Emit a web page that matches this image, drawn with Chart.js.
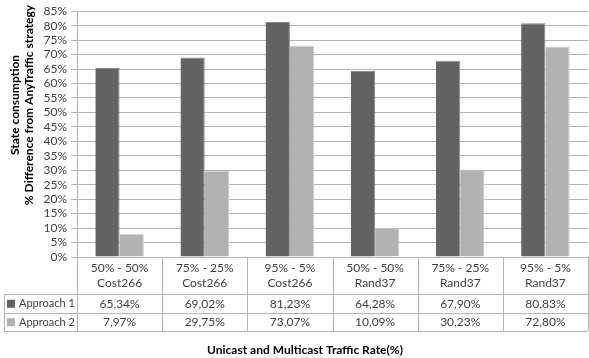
<!DOCTYPE html>
<html>
<head>
<meta charset="utf-8">
<script src="https://cdn.jsdelivr.net/npm/chart.js@4"></script>
<style>
  html, body { margin: 0; padding: 0; background: #fff; }
  #wrap { width: 589px; height: 358px; position: relative; }
</style>
</head>
<body>
<div id="wrap"><canvas id="chart"></canvas></div>
<script>
// Kategorien (Verkehrsverhältnis + Topologie) und Messreihen
const categories = [
    ['50% - 50%', 'Cost266'],
    ['75% - 25%', 'Cost266'],
    ['95% - 5%', 'Cost266'],
    ['50% - 50%', 'Rand37'],
    ['75% - 25%', 'Rand37'],
    ['95% - 5%', 'Rand37']
];
const seriesNames = ['Approach 1', 'Approach 2'];
const approach1 = [65.34, 69.02, 81.23, 64.28, 67.90, 80.83];
const approach2 = [7.97, 29.75, 73.07, 10.09, 30.23, 72.80];
const seriesColors = ['#636363', '#b2b2b2'];

const yTitleLines = ['State consumption', '% Difference from AnyTraffic strategy'];
const xTitle = 'Unicast and Multicast Traffic Rate(%)';

const FONT = 'Lato, "Open Sans", sans-serif';
const lineColor = '#b4b4b4';
const textColor = '#404040';

function fmt(v) {
    return v.toFixed(2).replace('.', ',') + '%';
}

/**
 * Zeichnet die Datentabelle unter dem Diagramm sowie die Achsentitel.
 */
const dataTablePlugin = {
    id: 'dataTable',
    afterDraw(chart) {
        const ctx = chart.ctx;
        const xs = chart.scales.x;
        const area = chart.chartArea;
        const colW = (area.right - area.left) / categories.length;
        const headTop = area.bottom;
        const headBottom = area.bottom + 37;
        const rowH = 18.5;
        const tableLeft = 4;
        const series = [approach1, approach2];

        ctx.save();
        ctx.strokeStyle = lineColor;
        ctx.lineWidth = 1;

        // horizontale Linien
        ctx.beginPath();
        for (let r = 0; r <= series.length; r++) {
            const y = Math.round(headBottom + r * rowH) + 0.5;
            ctx.moveTo(tableLeft, y);
            ctx.lineTo(area.right, y);
        }
        // vertikale Linien
        for (let i = 0; i <= categories.length; i++) {
            const x = Math.round(area.left + i * colW) + 0.5;
            ctx.moveTo(x, headTop);
            ctx.lineTo(x, headBottom + series.length * rowH);
        }
        ctx.moveTo(tableLeft + 0.5, headBottom);
        ctx.lineTo(tableLeft + 0.5, headBottom + series.length * rowH);
        ctx.stroke();

        ctx.fillStyle = textColor;
        ctx.font = '12px ' + FONT;
        ctx.textAlign = 'center';
        ctx.textBaseline = 'middle';

        // Kopfzeile mit Kategorien
        categories.forEach((lab, i) => {
            const cx = xs.getPixelForValue(i);
            ctx.fillText(lab[0], cx, headTop + 11);
            ctx.fillText(lab[1], cx, headTop + 26);
        });

        // Datenzeilen
        series.forEach((vals, r) => {
            const cy = headBottom + r * rowH + rowH / 2 + 0.5;
            ctx.font = '12px ' + FONT;
            vals.forEach((v, i) => {
                ctx.fillText(fmt(v), xs.getPixelForValue(i), cy);
            });
            ctx.fillStyle = seriesColors[r];
            ctx.fillRect(7, cy - 4, 8, 8);
            ctx.fillStyle = textColor;
            ctx.textAlign = 'left';
            ctx.font = '11px ' + FONT;
            ctx.fillText(seriesNames[r], 19, cy);
            ctx.textAlign = 'center';
        });

        // Achsentitel
        ctx.fillStyle = '#000';
        ctx.font = 'bold 12px ' + FONT;
        ctx.fillText(xTitle, 305, 350);

        ctx.translate(22, 105);
        ctx.rotate(-Math.PI / 2);
        ctx.fillText(yTitleLines[0], 0, -7);
        ctx.fillText(yTitleLines[1], 0, 7);
        ctx.restore();
    }
};

new Chart(document.getElementById('chart'), {
    type: 'bar',
    data: {
        labels: categories,
        datasets: [
            { label: seriesNames[0], data: approach1, backgroundColor: seriesColors[0], borderColor: '#8a8a8a', borderWidth: { top: 1, left: 0, right: 1, bottom: 0 } },
            { label: seriesNames[1], data: approach2, backgroundColor: seriesColors[1], borderColor: '#d0d0d0', borderWidth: { top: 1, left: 0, right: 1, bottom: 0 } }
        ]
    },
    options: {
        responsive: true,
        maintainAspectRatio: false,
        animation: false,
        categoryPercentage: 0.57,
        barPercentage: 1,
        layout: { padding: { top: 11, bottom: 101, right: 1, left: 0 } },
        plugins: {
            legend: { display: false },
            tooltip: { enabled: false }
        },
        scales: {
            x: { display: false },
            y: {
                min: 0, max: 85,
                ticks: {
                    stepSize: 5,
                    autoSkip: false,
                    color: textColor,
                    font: { family: FONT, size: 12 },
                    padding: 4,
                    callback: v => v + '%'
                },
                grid: { color: lineColor, tickLength: 6 },
                border: { display: true, color: lineColor },
                afterFit(scale) { scale.width = 77; }
            }
        }
    },
    plugins: [dataTablePlugin]
});
</script>
</body>
</html>
